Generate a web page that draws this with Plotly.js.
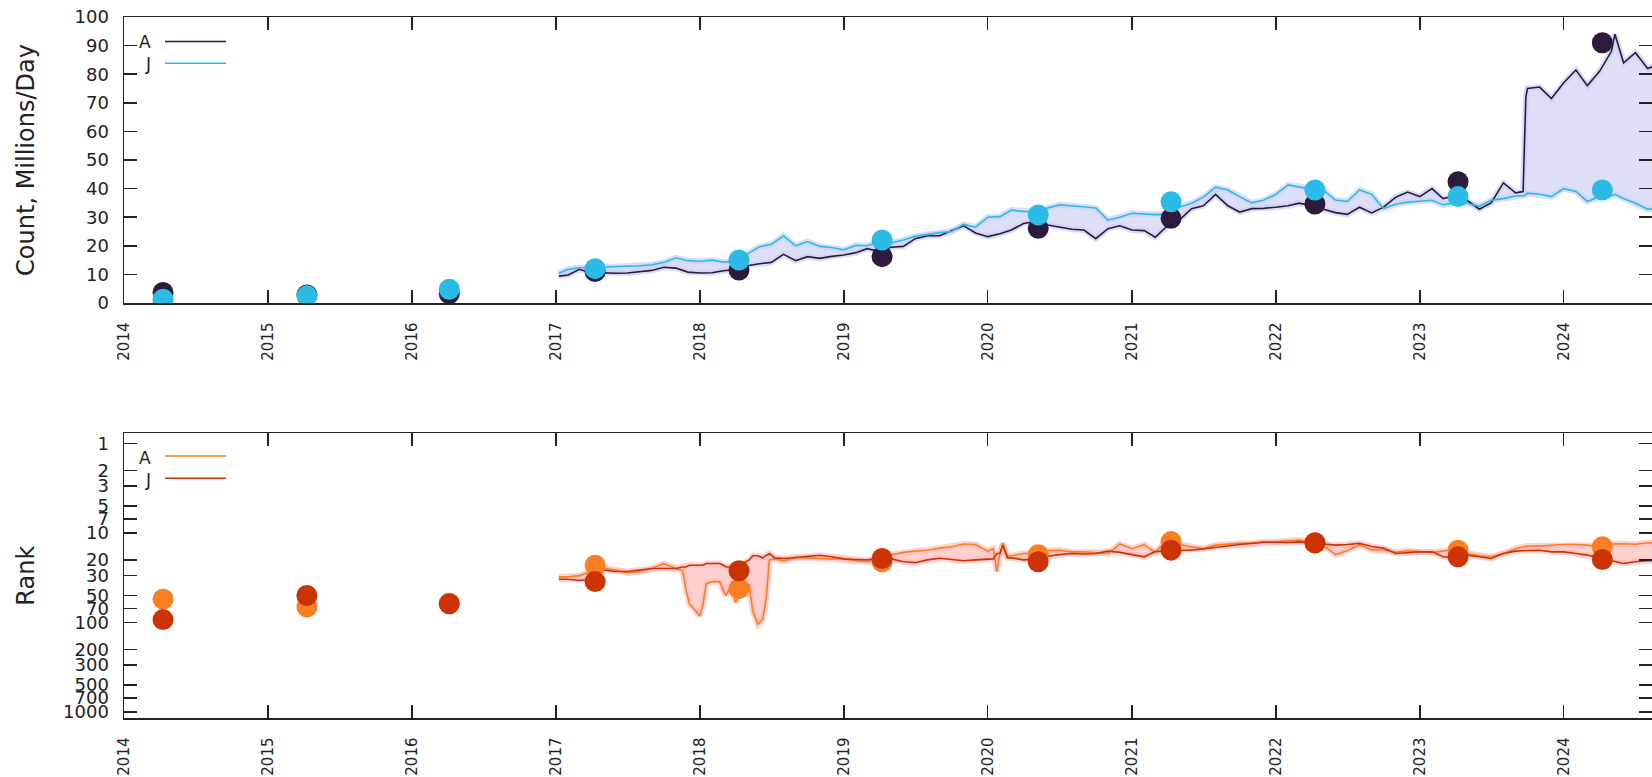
<!DOCTYPE html>
<html>
<head>
<meta charset="utf-8">
<script src="https://cdn.plot.ly/plotly-3.0.1.min.js"></script>
<style>html,body{margin:0;padding:0;background:#fff;overflow:hidden}#chart{width:1652px;height:777px}</style>
</head>
<body>
<div id="chart"></div>
<script>
// ---------- Data ----------
const seriesNames = ['A', 'J'];

// Annual snapshot points
const dotDates = ['2014-04-10','2015-04-10','2016-04-05','2017-04-10','2018-04-10','2019-04-08','2020-05-08','2021-04-10','2022-04-10','2023-04-08','2024-04-08'];
const countDotA = [3.7, 2.8, 3.3, 11.0, 11.5, 16.2, 26.1, 29.6, 34.6, 42.4, 91.0];
const countDotJ = [1.3, 2.5, 4.8, 12.0, 15.0, 22.0, 30.8, 35.4, 39.5, 37.2, 39.5];
const rankDotA  = [55, 67, 61, 23, 42, 21, 17.5, 12.5, 13, 15.6, 14.3];
const rankDotJ  = [93, 50, 62, 35, 26.5, 19.3, 21, 15.6, 12.9, 18.5, 19.8];

// Count time series (millions/day)
const countDates = [
 '2017-01-08','2017-02-01','2017-03-01','2017-04-01','2017-05-01','2017-06-01','2017-07-01','2017-08-01','2017-09-01','2017-10-01','2017-11-01','2017-12-01',
 '2018-01-01','2018-02-01','2018-03-01','2018-04-01','2018-05-01','2018-06-01','2018-07-01','2018-08-01','2018-09-01','2018-10-01','2018-11-01','2018-12-01',
 '2019-01-01','2019-02-01','2019-03-01','2019-04-01','2019-05-01','2019-06-01','2019-07-01','2019-08-01','2019-09-01','2019-10-01','2019-11-01','2019-12-01',
 '2020-01-01','2020-02-01','2020-03-01','2020-04-01','2020-05-01','2020-06-01','2020-07-01','2020-08-01','2020-09-01','2020-10-01','2020-11-01','2020-12-01',
 '2021-01-01','2021-02-01','2021-03-01','2021-04-01','2021-05-01','2021-06-01','2021-07-01','2021-08-01','2021-09-01','2021-10-01','2021-11-01','2021-12-01',
 '2022-01-01','2022-02-01','2022-03-01','2022-04-01','2022-05-01','2022-06-01','2022-07-01','2022-08-01','2022-09-01','2022-10-01','2022-11-01','2022-12-01',
 '2023-01-01','2023-02-01','2023-03-01','2023-04-01','2023-05-01','2023-06-01','2023-07-01','2023-08-01','2023-09-01','2023-09-20','2023-09-27','2023-10-01','2023-11-01','2023-12-01',
 '2024-01-01','2024-02-01','2024-03-01','2024-04-01','2024-05-01','2024-05-10','2024-06-01','2024-07-01','2024-08-01','2024-08-20'
];
const countA = [
 9.4, 9.8, 11.8, 10.5, 10.6, 10.4, 10.5, 10.9, 11.4, 12.5, 12.2, 10.8,
 10.5, 10.6, 11.3, 11.6, 13.0, 13.7, 14.2, 17.0, 14.8, 16.2, 15.6, 16.3,
 16.8, 17.6, 19.0, 18.0, 19.5, 19.8, 22.5, 23.5, 23.5, 25.3, 27.0, 24.5,
 23.2, 24.2, 25.5, 27.8, 28.5, 27.3, 26.5, 25.8, 25.5, 22.5, 26.0, 27.0,
 25.5, 25.3, 23.0, 27.0, 29.0, 33.0, 34.0, 38.0, 34.0, 31.8, 33.0, 33.1,
 33.5, 34.0, 34.9, 34.0, 32.8, 31.6, 31.0, 33.5, 31.5, 33.5, 37.0, 38.8,
 37.2, 40.0, 36.5, 37.5, 35.9, 32.8, 35.0, 42.0, 38.5, 39.0, 72.0, 75.0, 75.5, 71.5,
 77.0, 81.5, 76.0, 81.0, 88.0, 94.0, 84.0, 87.5, 82.0, 83.0
];
const countJ = [
 10.4, 11.8, 12.3, 12.3, 12.6, 12.7, 12.9, 13.0, 13.4, 14.2, 15.8, 14.8,
 14.6, 15.0, 14.3, 14.5, 17.2, 19.7, 20.5, 23.5, 20.0, 21.5, 19.8, 19.4,
 18.6, 20.2, 20.0, 21.5, 21.0, 22.0, 23.3, 24.0, 24.6, 25.0, 27.5, 26.5,
 30.0, 30.2, 32.5, 32.0, 32.0, 33.2, 34.3, 34.0, 33.6, 33.2, 29.0, 30.0,
 31.4, 31.0, 30.9, 31.0, 33.5, 34.9, 37.0, 40.5, 39.5, 37.2, 35.0, 36.0,
 38.0, 41.3, 40.6, 39.8, 39.5, 36.0, 35.5, 39.5, 38.0, 33.0, 34.5, 35.2,
 35.6, 35.9, 34.3, 35.0, 34.9, 33.8, 35.9, 36.5, 37.4, 37.4, 37.8, 38.4, 38.0, 37.2,
 40.0, 39.0, 35.5, 37.2, 37.5, 38.0, 36.5, 34.9, 32.8, 33.0
];

// Rank time series
const rankDates = [
 '2017-01-08','2017-02-01','2017-03-01','2017-04-01','2017-05-01','2017-06-01','2017-07-01','2017-08-01','2017-09-01','2017-10-01',
 '2017-11-01','2017-11-18','2017-11-26','2017-12-05','2017-12-22','2017-12-31',
 '2018-01-08','2018-01-17','2018-02-03','2018-02-20','2018-03-01','2018-03-08','2018-03-20','2018-04-02','2018-04-19','2018-05-06','2018-05-15','2018-05-28','2018-06-09','2018-06-18','2018-06-26','2018-07-10',
 '2018-08-01','2018-09-01','2018-10-01','2018-11-01','2018-12-01',
 '2019-01-01','2019-02-01','2019-03-01','2019-04-01','2019-05-01','2019-06-01','2019-07-01','2019-08-01','2019-09-01','2019-10-01','2019-11-01','2019-12-01',
 '2020-01-01','2020-01-15','2020-01-24','2020-02-01','2020-02-08','2020-02-20','2020-03-01','2020-04-01','2020-05-01','2020-06-01','2020-07-01','2020-08-01','2020-09-01','2020-10-01','2020-11-01','2020-12-01',
 '2021-01-01','2021-02-01','2021-03-01','2021-04-01','2021-05-01','2021-06-01','2021-07-01','2021-08-01','2021-09-01','2021-10-01','2021-11-01','2021-12-01',
 '2022-01-01','2022-02-01','2022-03-01','2022-04-01','2022-05-01','2022-06-01','2022-07-01','2022-08-01','2022-09-01','2022-10-01','2022-11-01','2022-12-01',
 '2023-01-01','2023-02-01','2023-03-01','2023-04-01','2023-05-01','2023-06-01','2023-07-01','2023-08-01','2023-09-01','2023-10-01','2023-11-01','2023-12-01',
 '2024-01-01','2024-02-01','2024-03-01','2024-04-01','2024-05-01','2024-06-01','2024-07-01','2024-08-01','2024-08-20'
];
const rankA = [
 31, 31, 30, 27, 25, 26, 28, 27, 25, 22,
 25, 26.5, 42, 62, 75, 85,
 66, 37, 35, 35, 44, 50, 40, 60, 35, 38, 75, 105, 92, 55, 20, 19.5,
 20.5, 18.8, 19, 19.3, 19.5,
 19.5, 20.5, 21, 20, 17.5, 16.5, 16, 15.6, 14.8, 14.3, 13.3, 13.5,
 16, 15, 27, 17, 13, 18, 18, 17, 17, 15.8, 15.6, 16.3, 16.3, 16.5, 17, 13.3,
 15, 13.5, 16.5, 12, 13.5, 14.3, 15, 13.7, 13.3, 13.1, 13.1, 12.6,
 12.6, 12.4, 12.0, 12.9, 13.7, 17.5, 15.8, 13.7, 15.5, 15.5, 16.5, 15.8,
 16.3, 16.5, 16, 15, 17, 18, 18.5, 17, 15, 14, 14, 13.7,
 13.5, 13.5, 13.7, 14.3, 13.3, 13.2, 13.4, 12.9, 13.0
];
const rankJ = [
 33, 33, 34, 33, 26, 27, 27, 26, 25, 25,
 25, 24, 24, 23, 23, 23,
 23, 22, 22, 22, 23, 24, 24, 24, 22, 20, 18, 18, 19, 18, 17, 19,
 19.3, 18.8, 18.2, 17.8, 18.5,
 19.5, 19.8, 20, 19.3, 19.5, 21, 21.5, 20, 19.2, 19.8, 20.5, 20,
 19.8, 19.5, 17, 17, 13.7, 19, 19, 20, 19.5, 18.2, 17.5, 17, 17.2, 17, 16, 16.5,
 17.5, 18.5, 16.2, 15.8, 15.6, 15.6, 15, 14.3, 14, 13.5, 13.1, 12.7,
 12.7, 12.8, 12.6, 12.9, 13.3, 13.7, 13.5, 13.1, 14.2, 14.8, 17, 16.5,
 16.3, 16.3, 18.5, 19, 17.7, 18.5, 19.3, 17, 16, 15.7, 15.6, 16.3,
 16.3, 17, 17.7, 19, 20.5, 22, 21, 20.4, 20.5
];

const countTicks = [0,10,20,30,40,50,60,70,80,90,100];
const rankTicks = [1,2,3,5,7,10,20,30,50,70,100,200,300,500,700,1000];

// ---------- Styles ----------
const colA = '#2e1a3c', colJ = '#2bbbe8';
const colRA = '#fb7f22', colRJ = '#cc3305';
const fillTop = '#dcdff6', fillBot = '#fdd0d0';
const haloTop = 'rgba(205,210,244,0.75)', haloBot = 'rgba(252,190,190,0.7)';

const traces = [
 // top band
 {x: countDates, y: countA, xaxis:'x', yaxis:'y', mode:'lines', line:{width:0, color:fillTop}, hoverinfo:'skip'},
 {x: countDates, y: countJ, xaxis:'x', yaxis:'y', mode:'lines', fill:'tonexty', fillcolor:fillTop, line:{width:0, color:fillTop}, hoverinfo:'skip'},
 {x: countDates, y: countA, xaxis:'x', yaxis:'y', mode:'lines', line:{width:6, color:haloTop}, hoverinfo:'skip'},
 {x: countDates, y: countJ, xaxis:'x', yaxis:'y', mode:'lines', line:{width:6, color:haloTop}, hoverinfo:'skip'},
 {x: countDates, y: countA, xaxis:'x', yaxis:'y', mode:'lines', name:seriesNames[0], line:{width:1.6, color:colA}},
 {x: countDates, y: countJ, xaxis:'x', yaxis:'y', mode:'lines', name:seriesNames[1], line:{width:1.6, color:colJ}},
 {x: dotDates, y: countDotA, xaxis:'x', yaxis:'y', mode:'markers', marker:{size:21, color:colA}},
 {x: dotDates, y: countDotJ, xaxis:'x', yaxis:'y', mode:'markers', marker:{size:21, color:colJ}},
 // bottom band
 {x: rankDates, y: rankA, xaxis:'x2', yaxis:'y2', mode:'lines', line:{width:0, color:fillBot}, hoverinfo:'skip'},
 {x: rankDates, y: rankJ, xaxis:'x2', yaxis:'y2', mode:'lines', fill:'tonexty', fillcolor:fillBot, line:{width:0, color:fillBot}, hoverinfo:'skip'},
 {x: rankDates, y: rankA, xaxis:'x2', yaxis:'y2', mode:'lines', line:{width:6, color:haloBot}, hoverinfo:'skip'},
 {x: rankDates, y: rankJ, xaxis:'x2', yaxis:'y2', mode:'lines', line:{width:6, color:haloBot}, hoverinfo:'skip'},
 {x: rankDates, y: rankA, xaxis:'x2', yaxis:'y2', mode:'lines', name:seriesNames[0], line:{width:1.6, color:colRA}},
 {x: rankDates, y: rankJ, xaxis:'x2', yaxis:'y2', mode:'lines', name:seriesNames[1], line:{width:1.6, color:colRJ}},
 {x: dotDates, y: rankDotA, xaxis:'x2', yaxis:'y2', mode:'markers', marker:{size:21, color:colRA}},
 {x: dotDates, y: rankDotJ, xaxis:'x2', yaxis:'y2', mode:'markers', marker:{size:21, color:colRJ}}
];

const axCol = '#222';
function xAxis(anchor){
 return {type:'date', anchor:anchor, range:['2014-01-01','2024-08-12'], tick0:'2014-01-01', dtick:'M12', tickformat:'%Y',
  tickangle:-90, ticks:'inside', ticklen:13, tickwidth:1.5, tickcolor:axCol, showline:true, linecolor:axCol, linewidth:1.5,
  mirror:'ticks', showgrid:false, zeroline:false, tickfont:{size:15, color:axCol}, ticklabelstandoff:12};
}
const W = 1652, H = 777, L = 124, R = 0, T = 17, B = 59;
const pw = W - L - R, ph = H - T - B;
const px2x = p => (p - L) / pw;
const py2y = p => 1 - (p - T) / ph;

const layout = {
 width: W, height: H,
 margin:{l:L, r:R, t:T, b:B, pad:0},
 paper_bgcolor:'#fff', plot_bgcolor:'#fff',
 showlegend:false,
 font:{family:'DejaVu Sans, sans-serif', size:18, color:axCol},
 xaxis: xAxis('y'),
 xaxis2: xAxis('y2'),
 yaxis:{domain:[py2y(303), 1], range:[0,100], tickvals:countTicks, ticks:'inside', ticklen:13, tickwidth:1.5, tickcolor:axCol,
  showline:true, linecolor:axCol, linewidth:1.5, mirror:'ticks', showgrid:false, zeroline:false, tickfont:{size:18}, ticklabelstandoff:10,
  title:{text:'Count, Millions/Day', font:{size:24, color:axCol}, standoff:33}},
 yaxis2:{domain:[0, py2y(433.3)], type:'log', range:[3.067, -0.112], tickvals:rankTicks, ticktext:rankTicks.map(String),
  ticks:'inside', ticklen:13, tickwidth:1.5, tickcolor:axCol, showline:true, linecolor:axCol, linewidth:1.5, mirror:'ticks',
  showgrid:false, zeroline:false, tickfont:{size:18}, ticklabelstandoff:10,
  title:{text:'Rank', font:{size:24, color:axCol}, standoff:21}},
 shapes:[
  {type:'line', xref:'paper', yref:'paper', x0:px2x(165), x1:px2x(226), y0:py2y(41.5), y1:py2y(41.5), line:{color:colA, width:1.6}},
  {type:'line', xref:'paper', yref:'paper', x0:px2x(165), x1:px2x(226), y0:py2y(63.3), y1:py2y(63.3), line:{color:colJ, width:1.6}},
  {type:'line', xref:'paper', yref:'paper', x0:px2x(165), x1:px2x(226), y0:py2y(456), y1:py2y(456), line:{color:colRA, width:1.6}},
  {type:'line', xref:'paper', yref:'paper', x0:px2x(165), x1:px2x(226), y0:py2y(478.3), y1:py2y(478.3), line:{color:colRJ, width:1.6}}
 ],
 annotations:[
  {text:seriesNames[0], xref:'paper', yref:'paper', x:px2x(153), y:py2y(42), xanchor:'right', yanchor:'middle', showarrow:false, font:{size:17}},
  {text:seriesNames[1], xref:'paper', yref:'paper', x:px2x(153), y:py2y(64), xanchor:'right', yanchor:'middle', showarrow:false, font:{size:17}},
  {text:seriesNames[0], xref:'paper', yref:'paper', x:px2x(153), y:py2y(458), xanchor:'right', yanchor:'middle', showarrow:false, font:{size:17}},
  {text:seriesNames[1], xref:'paper', yref:'paper', x:px2x(153), y:py2y(479.5), xanchor:'right', yanchor:'middle', showarrow:false, font:{size:17}}
 ]
};

Plotly.newPlot('chart', traces, layout, {displayModeBar:false, staticPlot:true});
</script>
</body>
</html>
